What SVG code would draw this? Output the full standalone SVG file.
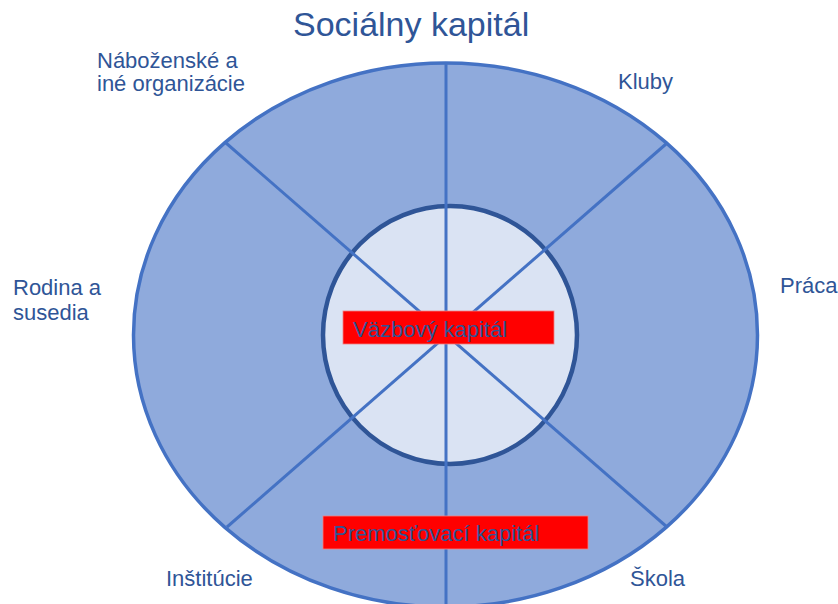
<svg xmlns="http://www.w3.org/2000/svg" width="838" height="604" viewBox="0 0 838 604">
  <style>
    text { font-family: "Liberation Sans", Arial, sans-serif; fill: #2F5597; }
    .lbl { font-size: 22px; }
    .title { font-size: 34px; }
    .outer { fill: #8FAADC; stroke: #4472C4; stroke-width: 3.5; }
    .inner { fill: #DAE3F3; stroke: #2F5597; stroke-width: 4.5; }
    .spoke { stroke: #4472C4; stroke-width: 3; fill: none; }
    .tag { fill: #FF0000; stroke: #F08080; stroke-width: 0.8; }
  </style>
  <rect width="838" height="604" fill="#FFFFFF"/>

  <text class="title" x="293" y="36">Sociálny kapitál</text>

  <g id="outer-ring">
    <ellipse class="outer" cx="445.5" cy="335" rx="312" ry="272"/>
  </g>
  <g id="inner-circle">
    <ellipse class="inner" cx="450" cy="335" rx="127" ry="129"/>
  </g>

  <g id="spokes">
    <line class="spoke" x1="446" y1="63" x2="446" y2="604"/>
    <line class="spoke" x1="226" y1="143" x2="667" y2="527"/>
    <line class="spoke" x1="666" y1="144" x2="227" y2="527"/>
  </g>

  <g id="bonding">
    <rect class="tag" x="343" y="311" width="211" height="33"/>
    <text class="lbl" x="353" y="337">Väzbový kapitál</text>
  </g>
  <g id="bridging">
    <rect class="tag" x="323" y="516" width="265" height="33"/>
    <text class="lbl" x="333" y="541">Premosťovací kapitál</text>
  </g>

  <g id="religious">
    <text class="lbl" x="97" y="68">Náboženské a</text>
    <text class="lbl" x="97" y="91">iné organizácie</text>
  </g>
  <g id="clubs">
    <text class="lbl" x="618" y="89">Kluby</text>
  </g>
  <g id="family">
    <text class="lbl" x="13" y="295">Rodina a</text>
    <text class="lbl" x="13" y="320">susedia</text>
  </g>
  <g id="work">
    <text class="lbl" x="780" y="293">Práca</text>
  </g>
  <g id="institutions">
    <text class="lbl" x="166" y="586">Inštitúcie</text>
  </g>
  <g id="school">
    <text class="lbl" x="630" y="586">Škola</text>
  </g>
</svg>
